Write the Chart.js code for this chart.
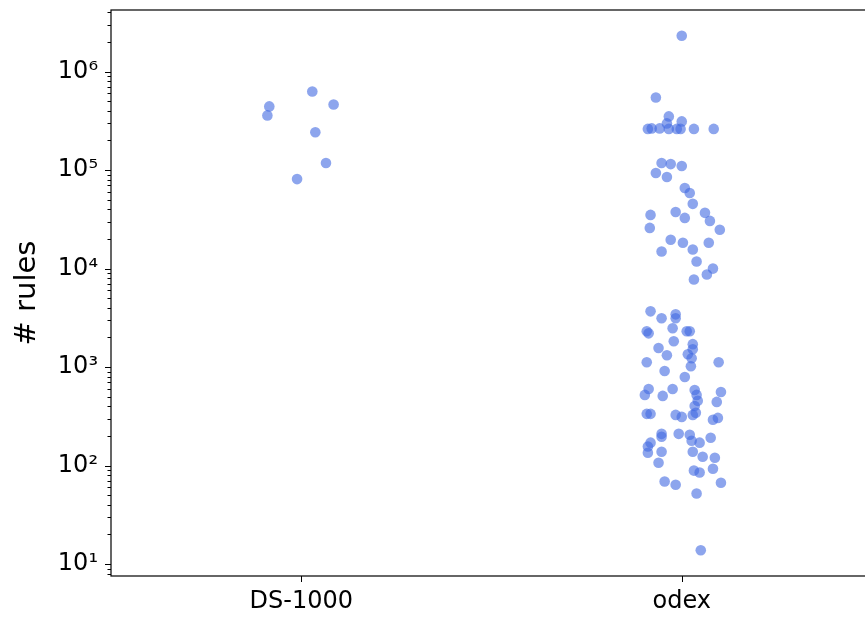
<!DOCTYPE html>
<html>
<head>
<meta charset="utf-8">
<script src="https://cdn.jsdelivr.net/npm/chart.js@4.4.1/dist/chart.umd.min.js"></script>
<style>
    html, body { margin: 0; padding: 0; background: #fff; }
    #frame { width: 865px; height: 620px; overflow: hidden; position: relative; }
    #wrap { width: 880px; height: 620px; position: relative; }
</style>
</head>
<body>
<div id="frame"><div id="wrap"><canvas id="stripChart"></canvas></div></div>
<script>
const categories = ["DS-1000", "odex"];

// rules per task, and horizontal jitter (in category units) as seen in the plot
const ds1000Rules = [629000, 464000, 443000, 359000, 242000, 118000, 81000];
const ds1000Jitter = [0.029, 0.085, -0.084, -0.089, 0.037, 0.065, -0.011];

const odexRules = [
    2310000, 546000, 351000, 312000, 298000,
    262000, 265000, 265000, 262000, 262000, 262000, 262000, 262000,
    118000, 115000, 110000, 93300, 85000, 65800, 58600, 45400,
    35100, 37600, 32700, 36800, 30500, 24800, 25900,
    19600, 18300, 18300, 14900, 15600, 11800, 10000, 8700, 7750,
    3680, 3130, 3430, 3130, 2310, 2200, 2480, 2310, 2310,
    1560, 1830, 1710, 1520, 1350, 1320, 1230, 1020, 1120, 1120,
    912, 793, 600, 522, 510, 600, 586, 522, 454, 558, 443, 403,
    335, 335, 327, 312, 327, 343, 292, 305,
    210, 196, 210, 206, 179, 171, 192, 171, 156, 135, 138, 138, 123, 120,
    107, 89, 85, 93, 69, 64, 67, 52, 13.8
];
const odexJitter = [
    0, -0.068, -0.034, 0, -0.039,
    -0.089, -0.079, -0.058, -0.034, -0.013, -0.003, 0.032, 0.084,
    -0.053, -0.029, 0, -0.068, -0.039, 0.008, 0.021, 0.029,
    -0.082, -0.016, 0.008, 0.061, 0.074, 0.1, -0.084,
    -0.029, 0.003, 0.071, -0.053, 0.029, 0.039, 0.082, 0.066, 0.032,
    -0.082, -0.053, -0.016, -0.016, -0.092, -0.087, -0.024, 0.013, 0.021,
    -0.061, -0.021, 0.029, 0.029, 0.016, -0.039, 0.026, 0.024, -0.092, 0.097,
    -0.045, 0.008, -0.087, -0.097, -0.05, -0.024, 0.034, 0.039, 0.042, 0.103, 0.092, 0.034,
    -0.092, -0.082, -0.016, 0, 0.029, 0.037, 0.082, 0.095,
    -0.053, -0.053, -0.008, 0.021, 0.026, 0.047, 0.076, -0.082, -0.089, -0.089, -0.053, 0.029, 0.055, 0.087,
    -0.061, 0.032, 0.047, 0.082, -0.045, -0.016, 0.103, 0.039, 0.05
];

const yMajorTicks = [10, 100, 1000, 10000, 100000, 1000000];
const yTickLabels = ["10¹", "10²", "10³", "10⁴", "10⁵", "10⁶"];
const yMin = 7.57;
const yMax = 4.22e6;

function toPoints(catIndex, rules, jitter) {
    return rules.map((r, i) => ({ x: catIndex + jitter[i], y: r }));
}

const axisTicks = {
    id: 'axisTicks',
    afterDraw(chart) {
        const { ctx, chartArea: a, scales: { x, y } } = chart;
        ctx.save();
        ctx.strokeStyle = '#000';
        ctx.lineWidth = 1.2;
        ctx.strokeRect(a.left, a.top, a.right - a.left, a.bottom - a.top);
        ctx.lineWidth = 1;
        y.ticks.forEach(t => {
            const lg = Math.log10(t.value);
            const major = Math.abs(lg - Math.round(lg)) < 1e-9;
            const py = Math.round(y.getPixelForValue(t.value)) + 0.5;
            ctx.beginPath();
            ctx.moveTo(a.left - (major ? 6 : 3.5), py);
            ctx.lineTo(a.left, py);
            ctx.stroke();
        });
        x.ticks.forEach(t => {
            const px = Math.round(x.getPixelForValue(t.value)) + 0.5;
            ctx.beginPath();
            ctx.moveTo(px, a.bottom);
            ctx.lineTo(px, a.bottom + 6);
            ctx.stroke();
        });
        ctx.restore();
    }
};

function initChart() {
    const ctx = document.getElementById("stripChart").getContext("2d");
    Chart.defaults.font.family = "'DejaVu Sans', sans-serif";
    Chart.defaults.color = '#000';

    new Chart(ctx, {
        type: "scatter",
        data: {
            datasets: [
                {
                    label: categories[0],
                    data: toPoints(0, ds1000Rules, ds1000Jitter),
                    backgroundColor: "rgba(65, 105, 225, 0.6)",
                    borderWidth: 0,
                    pointRadius: 5.3,
                    pointHoverRadius: 5.3
                },
                {
                    label: categories[1],
                    data: toPoints(1, odexRules, odexJitter),
                    backgroundColor: "rgba(65, 105, 225, 0.6)",
                    borderWidth: 0,
                    pointRadius: 5.3,
                    pointHoverRadius: 5.3
                }
            ]
        },
        options: {
            responsive: true,
            maintainAspectRatio: false,
            animation: false,
            layout: { padding: { top: 10, right: 8, left: 0, bottom: 0 } },
            plugins: {
                legend: { display: false },
                tooltip: { enabled: false }
            },
            scales: {
                x: {
                    type: 'linear',
                    min: -0.5,
                    max: 1.5,
                    afterBuildTicks: scale => {
                        scale.ticks = categories.map((c, i) => ({ value: i }));
                    },
                    afterFit: scale => {
                        scale.height = 44;
                        scale.paddingLeft = 0;
                        scale.paddingRight = 0;
                    },
                    ticks: {
                        padding: 5,
                        font: { size: 24 },
                        callback: v => categories[v]
                    },
                    grid: { display: true, drawOnChartArea: false, tickLength: 6, color: 'rgba(0,0,0,0)' },
                    border: { display: false }
                },
                y: {
                    type: 'logarithmic',
                    min: yMin,
                    max: yMax,
                    afterBuildTicks: scale => {
                        const ticks = [];
                        for (let k = 0; k <= 6; k++) {
                            for (let m = 1; m <= 9; m++) {
                                const v = m * Math.pow(10, k);
                                if (v >= yMin && v <= yMax) ticks.push({ value: v });
                            }
                        }
                        scale.ticks = ticks;
                    },
                    afterFit: scale => {
                        scale.width = 111;
                        scale.paddingTop = 0;
                        scale.paddingBottom = 0;
                    },
                    ticks: {
                        autoSkip: false,
                        padding: 7,
                        font: { size: 24 },
                        callback: v => {
                            const i = yMajorTicks.findIndex(m => Math.abs(m - v) < 1e-6 * m);
                            return i >= 0 ? yTickLabels[i] : '';
                        }
                    },
                    grid: { display: true, drawOnChartArea: false, tickLength: 6, color: 'rgba(0,0,0,0)' },
                    border: { display: false },
                    title: {
                        display: true,
                        text: '# rules',
                        font: { size: 29 },
                        padding: { top: 10, bottom: 4 }
                    }
                }
            }
        },
        plugins: [axisTicks]
    });
}

document.addEventListener('DOMContentLoaded', function() {
    initChart();
});
</script>
</body>
</html>
